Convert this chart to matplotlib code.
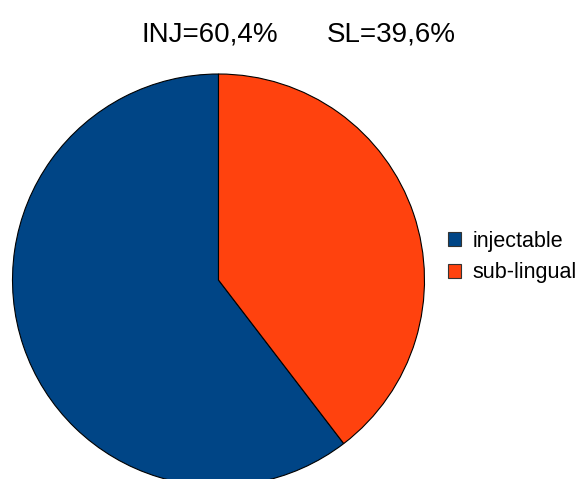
import matplotlib.pyplot as plt
from matplotlib.patches import Patch

labels = ['injectable', 'sub-lingual']
shares = [60.4, 39.6]
colors = ['#004586', '#ff420e']
title_left = 'INJ=60,4%'
title_right = 'SL=39,6%'

W, H = 578, 479
plt.rcParams['font.family'] = ['Liberation Sans', 'DejaVu Sans']

fig = plt.figure(figsize=(W / 100, H / 100), dpi=100)
ax = fig.add_axes([0, 0, 1, 1])
ax.set_xlim(0, W)
ax.set_ylim(0, H)
ax.set_aspect('equal')
ax.axis('off')

# pie centred in pixel coordinates (y measured from bottom)
ax.pie(shares, colors=colors, startangle=90, counterclock=True,
       center=(218.5, H - 280), radius=206,
       wedgeprops={'edgecolor': 'black', 'linewidth': 0.8})
ax.set_xlim(0, W)
ax.set_ylim(0, H)

ax.text(141, H - 41, title_left, fontsize=20, va='baseline', ha='left')
ax.text(327, H - 41, title_right, fontsize=20, va='baseline', ha='left')

handles = [Patch(facecolor=c, edgecolor='#333333', linewidth=0.8) for c in colors]
fig.legend(handles, labels, loc='center left', bbox_to_anchor=(448 / W, 1 - 257 / H),
           frameon=False, fontsize=15.5, handlelength=0.6, handleheight=0.6,
           handletextpad=0.55, labelspacing=0.5, borderpad=0, borderaxespad=0)

fig.savefig('out.png', dpi=100)
